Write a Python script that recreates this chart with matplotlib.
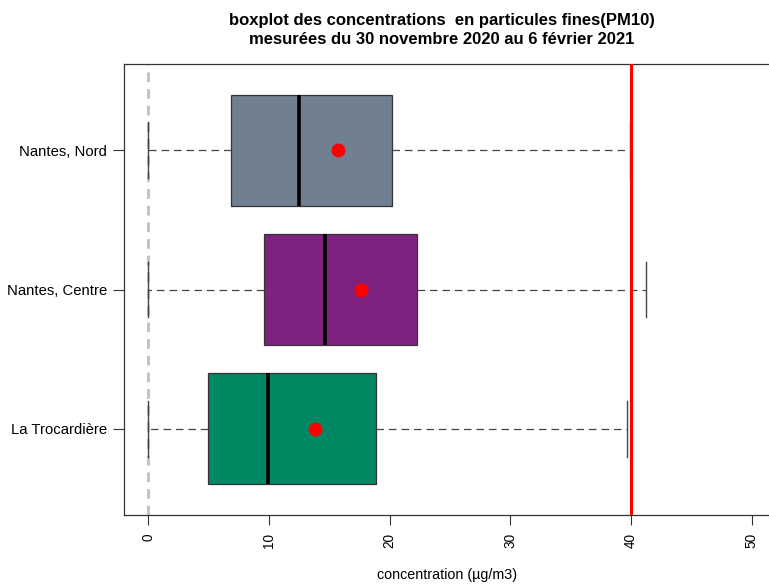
import numpy as np
import matplotlib
matplotlib.use('Agg')
import matplotlib.pyplot as plt

plt.rcParams['font.family'] = ['Liberation Sans', 'DejaVu Sans']

# stations, bottom to top
stations = ['La Trocardière', 'Nantes, Centre', 'Nantes, Nord']
colors = ['#008763', '#7e217f', '#708090']

# boxplot stats (µg/m3)
whis_lo = [0.0, 0.0, 0.0]
q1 = [4.97, 9.6, 6.85]
med = [9.91, 14.63, 12.47]
q3 = [18.86, 22.3, 20.23]
whis_hi = [39.65, 41.2, 39.9]
means = [13.83, 17.64, 15.7]

seuil = 40  # valeur limite

fig = plt.figure(figsize=(7.69, 5.84), dpi=100)
ax = fig.add_axes([124 / 769, 1 - 515 / 584, 652 / 769, 451 / 584])

stats = []
for i in range(len(stations)):
    stats.append(dict(label=stations[i], whislo=whis_lo[i], q1=q1[i], med=med[i],
                      q3=q3[i], whishi=whis_hi[i], mean=means[i], fliers=[]))

ax.axvline(0, color='#c0c0c0', lw=2, ls=(0, (3.5, 2.5)), zorder=1)

bp = ax.bxp(stats, positions=[1, 2, 3], widths=0.8, capwidths=0.4,
            orientation='horizontal', patch_artist=True, showmeans=True,
            boxprops=dict(edgecolor='#333333', lw=0.9),
            medianprops=dict(color='black', lw=2.6),
            whiskerprops=dict(color='#444444', lw=0.9, ls=(0, (6, 4))),
            capprops=dict(color='#444444', lw=1.0),
            meanprops=dict(marker='o', markerfacecolor='red', markeredgecolor='red',
                           markersize=9), zorder=2)
for patch, c in zip(bp['boxes'], colors):
    patch.set_facecolor(c)

ax.axvline(seuil, color='red', lw=2.2, zorder=3)

ax.set_xlim(-2, 52)
ax.set_ylim(0.38, 3.62)
ax.set_xticks([0, 10, 20, 30, 40, 50])
ax.set_xticklabels(['0', '10', '20', '30', '40', '50'], rotation=90, fontsize=9.8)
ax.set_yticks([1, 2, 3])
ax.set_yticklabels(stations, fontsize=10.7)
ax.tick_params(axis='x', length=7.2, pad=5.8, color='#333333')
ax.tick_params(axis='y', length=8, pad=4.3, color='#333333')
for s in ax.spines.values():
    s.set_color('#333333')
    s.set_linewidth(0.9)

fig.text(447 / 769, 5 / 584, 'concentration (µg/m3)', ha='center', va='baseline',
         fontsize=10.3)

xc = 442 / 769
fig.text(xc, 1 - 25 / 584, 'boxplot des concentrations  en particules fines(PM10)',
         ha='center', va='baseline', fontsize=12, fontweight='bold')
fig.text(xc, 1 - 43.5 / 584, 'mesurées du 30 novembre 2020 au 6 février 2021',
         ha='center', va='baseline', fontsize=12, fontweight='bold')

fig.savefig('out.png', dpi=100)
